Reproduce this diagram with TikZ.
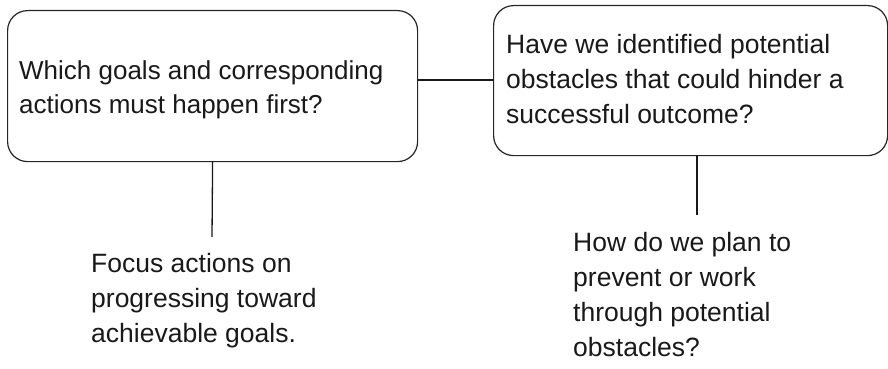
\documentclass[tikz,border=0pt]{standalone}
\usepackage{fontspec}
\setmainfont{Liberation Sans}
\begin{document}
\begin{tikzpicture}[x=1pt,y=-1pt,
  box/.style={draw=black!85, line width=1.2pt, rounded corners=20pt, inner sep=0pt, anchor=north west},
  txt/.style={inner sep=0pt, anchor=north west, align=left, text=black!90},
  link/.style={draw=black!90, line width=1.3pt}]
\useasboundingbox (0,0) rectangle (888,369);
% boxes
\node[box, minimum width=410pt, minimum height=151pt] (left) at (7,10) {};
\node[box, minimum width=394pt, minimum height=150pt] (right) at (493,5) {};
% texts
\node[txt, font=\fontsize{26}{34}\selectfont] (ltext) at (19,60.8)
  {Which goals and corresponding\\actions must happen first?};
\node[txt, font=\fontsize{26.5}{35}\selectfont] (rtext) at (506,34.5)
  {Have we identified potential\\obstacles that could hinder a\\successful outcome?};
\node[txt, font=\fontsize{26.5}{35}\selectfont] (bltext) at (91,253)
  {Focus actions on\\progressing toward\\achievable goals.};
\node[txt, font=\fontsize{26.5}{35}\selectfont] (brtext) at (573,232)
  {How do we plan to\\prevent or work\\through potential\\obstacles?};
% connectors
\coordinate (hy) at (0,80);
\coordinate (lend) at (212,237);
\coordinate (rend) at (697,215);
\draw[link] (right.west |- hy) -- (left.east |- hy);
\draw[link] (left.south) -- (lend);
\draw[link] (rend |- right.south) -- (rend);
\end{tikzpicture}
\end{document}
